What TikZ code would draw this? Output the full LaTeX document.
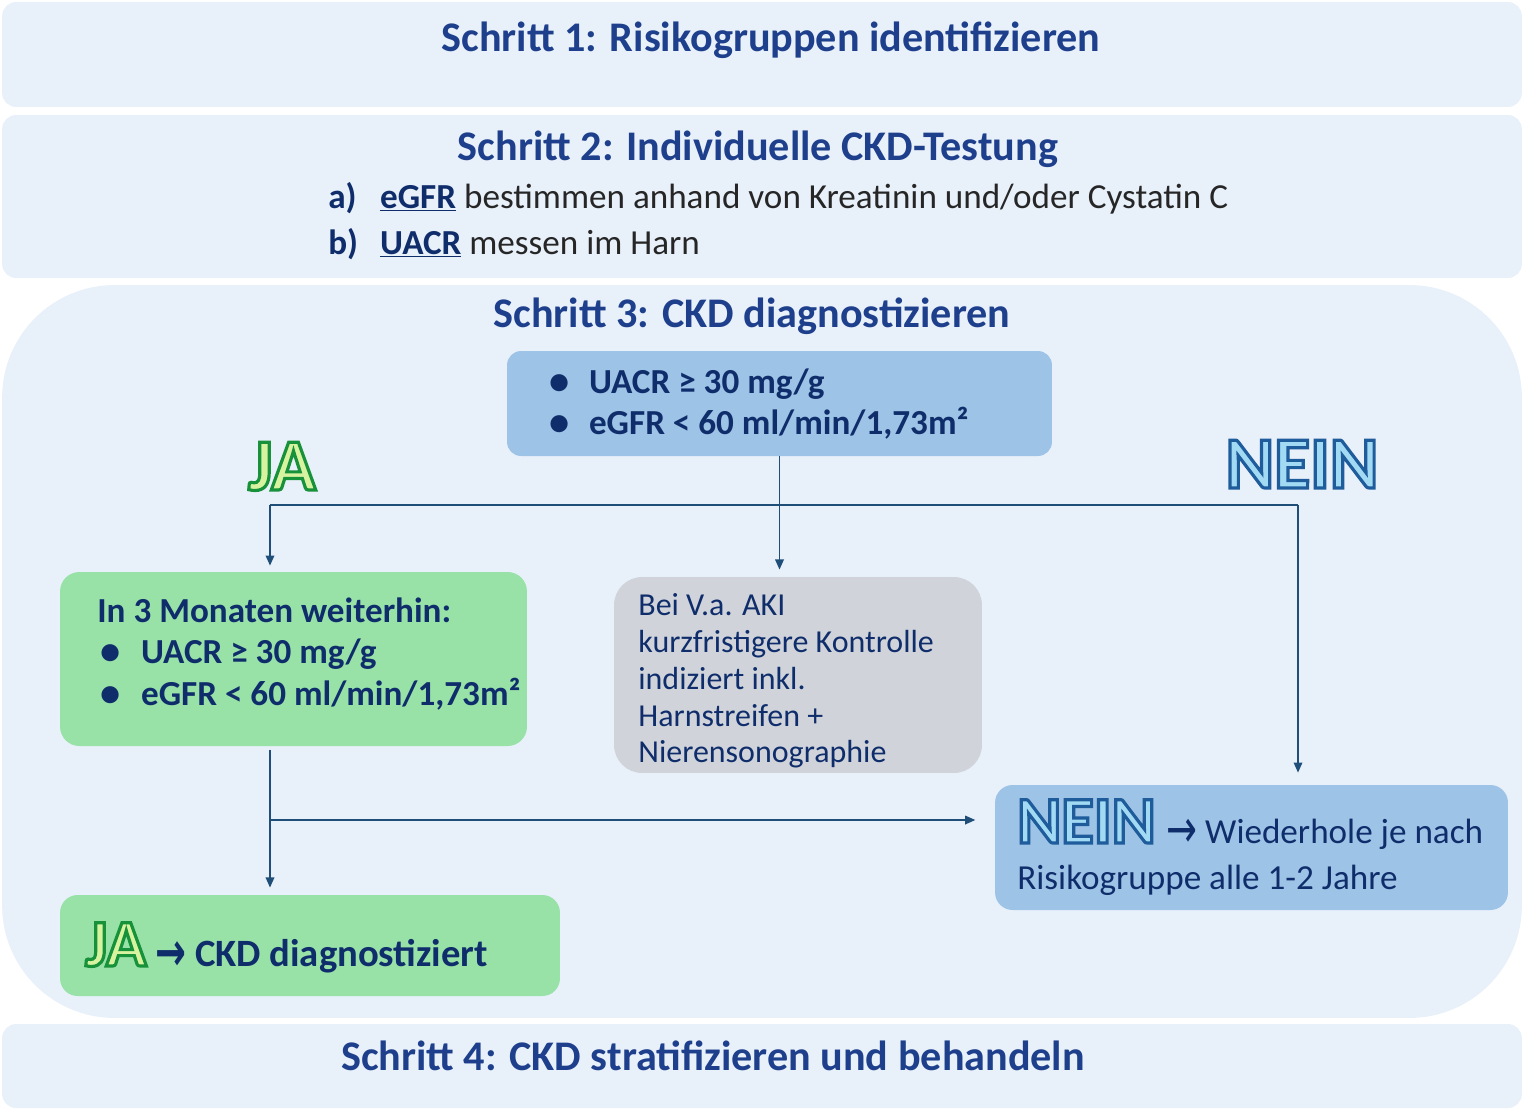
\documentclass[tikz,border=0pt]{standalone}
\usepackage{fontspec}
\setmainfont{Carlito}
\newfontfamily\symfont{DejaVu Sans}
\usetikzlibrary{arrows.meta,calc}
\definecolor{bandc}{HTML}{E8F0FA}
\definecolor{blueboxc}{HTML}{9DC3E6}
\definecolor{greenboxc}{HTML}{98E2A8}
\definecolor{grayboxc}{HTML}{D0D4DA}
\definecolor{titlec}{HTML}{1D3F8C}
\definecolor{navyc}{HTML}{0F2D6B}
\definecolor{linec}{HTML}{1F4E79}
\definecolor{jafill}{HTML}{D8F3A0}
\definecolor{neinfill}{HTML}{A2DAF4}
% outlined text: #1 size, #2 fill colour, #3 stroke rgb, #4 text
\newcommand\outl[4]{{\fontsize{#1}{#1}\selectfont\bfseries\color{#2}\special{pdf:literal direct 2 Tr 1.8 w #3 RG}#4\special{pdf:literal direct 0 Tr 0.39848 w}}}
\newcommand\bul[1]{\makebox[#1][l]{\raisebox{-0.6pt}{\scalebox{1.15}{\textbullet}}}}
\newcommand\rarr{{\symfont\fontsize{21}{21}\selectfont\raisebox{-0.13em}{\scalebox{1}[1.45]{→}}}}
\begin{document}
\begin{tikzpicture}[x=0.02cm,y=-0.02cm,
  band/.style={fill=bandc,draw=none,rounded corners=8pt},
  box/.style={draw=none,rounded corners=#1,inner sep=0pt},
  titletxt/.style={font=\fontsize{24}{28}\selectfont\bfseries,text=titlec,inner sep=0pt,anchor=base},
  bodytxt/.style={font=\fontsize{20}{24}\selectfont,text=navyc,inner sep=0pt,anchor=base west},
  boldtxt/.style={bodytxt,font=\fontsize{20}{24}\selectfont\bfseries},
  conn/.style={draw=linec,line width=1.1pt},
  arr/.style={conn,-{Triangle[width=4.8pt,length=5.8pt]}}]
\useasboundingbox (0,0) rectangle (1524,1110);
\fill[white] (0,0) rectangle (1524,1110);
% bands
\node[band,minimum width=30.4cm,minimum height=2.1cm] (b1) at (762,54.5) {};
\node[band,minimum width=30.4cm,minimum height=3.26cm] (b2) at (762,196.5) {};
\node[band,rounded corners=64pt,minimum width=30.4cm,minimum height=14.66cm] (b3) at (762,651.5) {};
\node[band,minimum width=30.4cm,minimum height=1.68cm] (b4) at (762,1066) {};
% titles
\node[titletxt] (t1) at (771,51) {Schritt 1: Risikogruppen identifizieren};
\node[titletxt] (t2) at (758,160) {Schritt 2: Individuelle CKD-Testung};
\node[titletxt] (t3) at (752,327) {Schritt 3: CKD diagnostizieren};
\node[titletxt] (t4) at (713,1070) {Schritt 4: CKD stratifizieren und behandeln};
% step 2 lines
\node[bodytxt,text=black!85] (la) at (328,208) {\textcolor{navyc}{\bfseries\makebox[29.5pt][l]{a)}\underline{eGFR}} bestimmen anhand von Kreatinin und/oder Cystatin C};
\node[bodytxt,text=black!85] (lb) at (328,254) {\textcolor{navyc}{\bfseries\makebox[29.5pt][l]{b)}\underline{UACR}} messen im Harn};
% boxes
\node[box=8pt,fill=blueboxc,minimum width=10.9cm,minimum height=2.1cm] (top) at (779.5,403.5) {};
\node[box=11pt,fill=greenboxc,minimum width=9.34cm,minimum height=3.48cm] (g1) at (293.5,659) {};
\node[box=16pt,fill=grayboxc,minimum width=7.36cm,minimum height=3.92cm] (gray) at (798,675) {};
\node[box=10pt,fill=blueboxc,minimum width=10.26cm,minimum height=2.5cm] (nein) at (1251.5,847.5) {};
\node[box=10pt,fill=greenboxc,minimum width=10cm,minimum height=2.02cm] (ja) at (310,945.5) {};
% top box text
\node[boldtxt] (u1) at (549,393) {\bul{22.6pt}UACR ≥ 30 mg/g};
\node[boldtxt] (u2) at (549,434) {\bul{22.6pt}eGFR < 60 ml/min/1,73m²};
% green box text
\node[boldtxt] (m0) at (97,622) {In 3 Monaten weiterhin:};
\node[boldtxt] (m1) at (100,663) {\bul{23.2pt}UACR ≥ 30 mg/g};
\node[boldtxt] (m2) at (100,705) {\bul{23.2pt}eGFR < 60 ml/min/1,73m²};
% gray text
\node[inner sep=0pt,anchor=north west,align=left,text=navyc,font=\fontsize{18.2}{21}\selectfont] (gt) at (638,593) {Bei V.a. AKI\\kurzfristigere Kontrolle\\indiziert inkl.\\Harnstreifen +\\Nierensonographie};
% NEIN box text
\node[bodytxt] (wied) at (1166,843) {\rarr\ Wiederhole je nach};
\node[bodytxt] (risk) at (1017,889) {Risikogruppe alle 1-2 Jahre};
% JA box text
\node[bodytxt,font=\fontsize{22}{26}\selectfont\bfseries] (ckd) at (155,966) {\rarr\ CKD diagnostiziert};
% connectors
\coordinate (jl) at (270,505);
\coordinate (nr) at (1298,505);
\coordinate (br) at (270,820);
\draw[conn] (jl) -- (nr);
\draw[arr,shorten >=4pt] (top.south) -- (top.south |- gray.north);
\draw[arr,shorten >=3.4pt] (jl) -- (jl |- g1.north);
\draw[arr,shorten >=6.8pt] (nr) -- (nr |- nein.north);
\draw[arr,shorten <=2pt,shorten >=4pt] (jl |- g1.south) -- (jl |- ja.north);
\draw[arr,shorten >=11pt] (br) -- (br -| nein.west);
% outlined labels (drawn last)
\node[inner sep=0pt,anchor=base] (jalab) at (282,490) {\outl{42}{jafill}{0.09 0.573 0.227}{JA}};
\node[inner sep=0pt,anchor=base] (neinlab) at (1302,488) {\outl{42}{neinfill}{0.122 0.361 0.612}{NEIN}};
\node[inner sep=0pt,anchor=base west] (neinin) at (1017,843) {\outl{38}{neinfill}{0.122 0.361 0.612}{NEIN}};
\node[inner sep=0pt,anchor=base west] (jain) at (85,966) {\outl{38}{jafill}{0.09 0.573 0.227}{JA}};
\end{tikzpicture}
\end{document}
